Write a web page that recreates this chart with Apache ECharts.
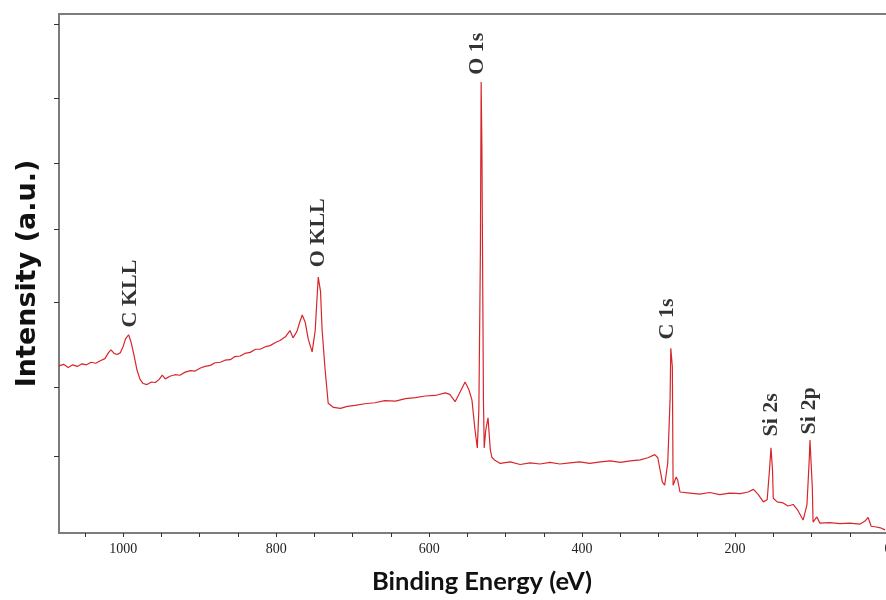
<!DOCTYPE html>
<html>
<head>
<meta charset="utf-8">
<script src="https://cdn.jsdelivr.net/npm/echarts@6/dist/echarts.min.js"></script>
<style>
html,body{margin:0;padding:0;background:#fff;}
#chart{width:886px;height:600px;}
</style>
</head>
<body>
<div id="chart"></div>
<script>
// Binding energy (eV) and intensity (a.u.)
var energy = [
  1084,1078,1072,1066,1060,1054,1048,1042,1036,1030,
  1024,1019,1016,1012,1008,1004,1000,997,993,990,
  986,982,978,974,969,963,958,953,949,945,
  939,932,926,919,912,906,899,893,886,880,
  873,867,860,854,847,841,834,827,821,814,
  808,801,795,788,782,778,773,769,766,762,
  758,753,749,746,745,742,740,736,732,725,
  716,707,697,684,671,658,644,631,618,605,
  592,579,573,566,559,553,548,544,540,537,
  535,533,532,531,529,528,526,523,520,518,
  514,507,494,481,468,455,442,429,416,403,
  390,376,363,350,337,324,314,305,301,295,
  292,288,285,284,282,281,277,275,272,259,
  246,233,220,207,193,183,176,170,163,158,
  155,153,151,150,145,137,131,124,118,111,
  106,103,102,99,98,93,89,76,63,50,
  37,30,26,22,17,10,4
];
var intensity = [
  32.2,32.5,31.9,32.4,32.1,32.6,32.4,32.9,32.7,33.2,
  33.6,34.8,35.3,34.6,34.4,34.7,36.0,37.4,38.2,36.9,
  34.3,31.4,29.6,28.8,28.6,29.1,29.0,29.6,30.4,29.7,
  30.2,30.5,30.4,31.0,31.3,31.2,31.8,32.1,32.3,32.8,
  32.9,33.3,33.4,34.0,34.1,34.6,34.8,35.4,35.4,35.9,
  36.1,36.7,37.1,37.8,39.0,37.6,38.8,40.7,42.0,40.6,
  37.3,34.9,39.0,46.8,49.3,46.5,39.2,31.4,25.0,24.2,
  24.0,24.4,24.6,24.9,25.1,25.5,25.4,25.9,26.1,26.4,
  26.5,27.0,26.7,25.3,27.3,29.1,27.6,25.6,19.8,16.4,
  23.7,54.0,86.9,74.0,25.6,16.4,19.8,22.2,16.0,14.6,
  14.0,13.4,13.7,13.2,13.5,13.3,13.6,13.3,13.5,13.7,
  13.4,13.7,13.9,13.6,13.9,14.1,14.5,15.1,14.5,9.8,
  9.2,13.5,25.6,35.6,32.0,9.2,10.8,10.2,7.9,7.7,
  7.5,7.8,7.4,7.7,7.6,7.9,8.4,7.5,6.0,6.4,
  12.1,16.4,12.1,6.7,6.0,5.8,5.2,5.5,4.4,2.5,
  5.4,14.1,17.9,8.9,2.1,3.1,1.9,2.0,1.8,1.9,
  1.7,2.3,3.0,1.3,1.2,1.0,0.6
];
// Peak annotations
var peakNames = ['C KLL','O KLL','O 1s','C 1s','Si 2s','Si 2p'];
var peakEnergy = [991, 745, 537, 288, 153, 103];
var peakLabelBase = [39.5, 51.1, 88.2, 37.2, 18.5, 18.9];
// Y-axis tick marks (unlabelled)
var yTicks = [14.8, 28.1, 44.5, 58.6, 71.3, 83.8, 98.1];
var xLabelStep = 200;

var spectrum = energy.map(function (e, i) { return [e, intensity[i]]; });
var peaks = peakNames.map(function (n, i) { return { name: n, value: [peakEnergy[i], peakLabelBase[i]] }; });

var chart = echarts.init(document.getElementById('chart'), null, { renderer: 'canvas' });
chart.setOption({
  animation: false,
  backgroundColor: '#ffffff',
  grid: {
    left: 59, right: -2, top: 14, bottom: 67,
    outerBoundsMode: 'none', containLabel: false,
    show: true, borderColor: '#7c7c7c', borderWidth: 2, backgroundColor: 'transparent'
  },
  xAxis: {
    type: 'value', inverse: true, min: 0, max: 1084, interval: 50,
    axisLine: { show: false, onZero: false },
    axisTick: { show: true, length: 4, inside: false, lineStyle: { color: '#333', width: 1 } },
    splitLine: { show: false },
    axisLabel: {
      show: true, margin: 9, color: '#222',
      fontFamily: 'Liberation Serif', fontSize: 14,
      showMaxLabel: false, hideOverlap: false,
      formatter: function (v) { return (v % xLabelStep === 0) ? String(v) : ''; }
    },
    name: 'Binding Energy (eV)',
    nameLocation: 'middle', nameGap: 36,
    nameTextStyle: {
      fontFamily: 'Lato', fontWeight: 'bold', fontSize: 25.5, color: '#111',
      padding: [0, 0, 0, 17]
    }
  },
  yAxis: {
    type: 'value', min: 0, max: 100, position: 'left',
    axisLine: { show: false, onZero: false },
    axisTick: { show: true, length: 5, inside: false, customValues: yTicks, lineStyle: { color: '#333', width: 1 } },
    axisLabel: { show: false },
    splitLine: { show: false },
    name: 'Intensity (a.u.)',
    nameLocation: 'middle', nameRotate: 90, nameGap: 18,
    nameTextStyle: { fontFamily: 'DejaVu Sans', fontWeight: 'bold', fontSize: 27, color: '#111' }
  },
  series: [
    {
      type: 'line', data: spectrum, symbol: 'none', smooth: false,
      lineStyle: { color: '#d7262b', width: 1.2 }
    },
    {
      type: 'scatter', data: peaks, symbolSize: 1,
      itemStyle: { color: 'rgba(0,0,0,0)' },
      label: {
        show: true, position: 'top', distance: 0, rotate: 90,
        align: 'left', verticalAlign: 'middle',
        formatter: '{b}',
        fontFamily: 'Liberation Serif', fontWeight: 'bold', fontSize: 22, color: '#000'
      }
    }
  ]
});
</script>
</body>
</html>
